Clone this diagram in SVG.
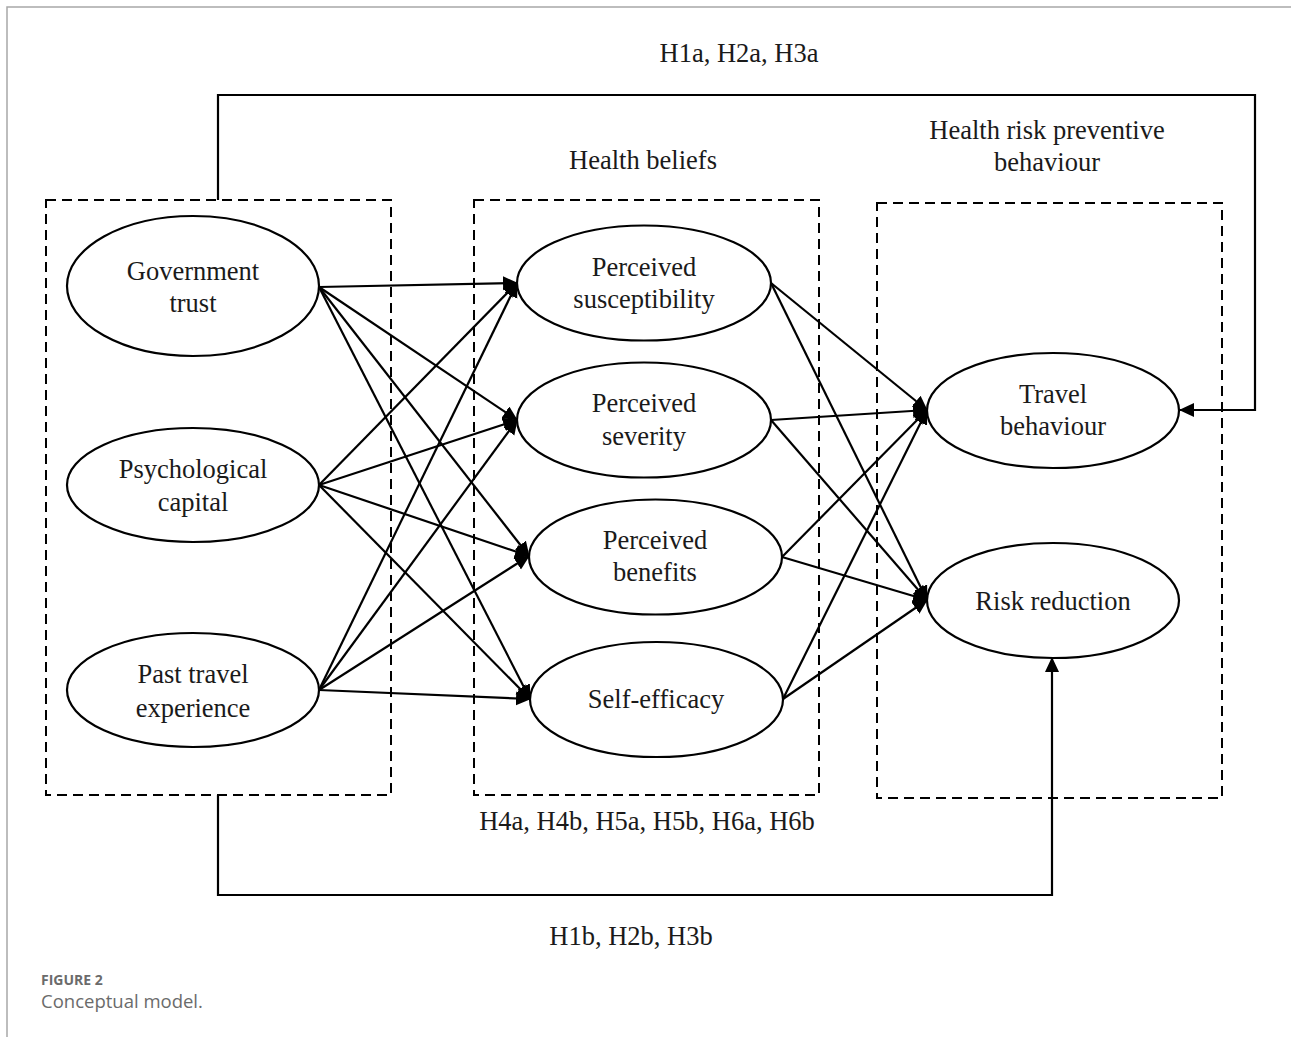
<svg xmlns="http://www.w3.org/2000/svg" width="1291" height="1037" viewBox="0 0 1291 1037">
<style>
  .frame{fill:none;stroke:#a8a8a8;stroke-width:1.5}
  .box{fill:none;stroke:#000;stroke-width:2;stroke-dasharray:10,6}
  .node ellipse{fill:#fff;stroke:#000;stroke-width:2.2}
  .t{font-family:"Liberation Serif","Times New Roman",serif;font-size:26.5px;fill:#1a1a1a;text-anchor:middle}
  .conn line,.conn polyline{fill:none;stroke:#000;stroke-width:2.2}
  .cap1{font-family:"Open Sans","Noto Sans",sans-serif;font-size:14px;font-weight:bold;fill:#6b6b6b}
  .cap2{font-family:"Open Sans","Noto Sans",sans-serif;font-size:18.5px;fill:#6b6b6b}
</style>
<defs>
  <marker id="ah" markerUnits="userSpaceOnUse" markerWidth="16" markerHeight="16" refX="14" refY="7" orient="auto">
    <path d="M0,0 L15,7 L0,14 z" fill="#000"/>
  </marker>
</defs>
<rect width="1291" height="1037" fill="#fff"/>
<polyline class="frame" points="7,1037 7,7 1291,7"/>

<g id="groups">
  <rect class="box" x="46" y="200" width="345" height="595"/>
  <rect class="box" x="474" y="200" width="345" height="595"/>
  <rect class="box" x="877" y="203" width="345" height="595"/>
  <text class="t" x="643" y="169">Health beliefs</text>
  <text class="t" x="1047" y="139">Health risk preventive</text>
  <text class="t" x="1047" y="171">behaviour</text>
</g>

<g id="connectors" class="conn">
  <line x1="319" y1="287" x2="517" y2="283" marker-end="url(#ah)"/>
  <line x1="319" y1="287" x2="517" y2="420" marker-end="url(#ah)"/>
  <line x1="319" y1="287" x2="529" y2="556" marker-end="url(#ah)"/>
  <line x1="319" y1="287" x2="530" y2="699" marker-end="url(#ah)"/>
  <line x1="319" y1="485" x2="517" y2="283" marker-end="url(#ah)"/>
  <line x1="319" y1="485" x2="517" y2="420" marker-end="url(#ah)"/>
  <line x1="319" y1="485" x2="529" y2="556" marker-end="url(#ah)"/>
  <line x1="319" y1="485" x2="530" y2="699" marker-end="url(#ah)"/>
  <line x1="319" y1="690" x2="517" y2="283" marker-end="url(#ah)"/>
  <line x1="319" y1="690" x2="517" y2="420" marker-end="url(#ah)"/>
  <line x1="319" y1="690" x2="529" y2="556" marker-end="url(#ah)"/>
  <line x1="319" y1="690" x2="530" y2="699" marker-end="url(#ah)"/>
  <line x1="771" y1="283" x2="927" y2="410" marker-end="url(#ah)"/>
  <line x1="771" y1="283" x2="927" y2="600" marker-end="url(#ah)"/>
  <line x1="771" y1="420" x2="927" y2="410" marker-end="url(#ah)"/>
  <line x1="771" y1="420" x2="927" y2="600" marker-end="url(#ah)"/>
  <line x1="782" y1="557" x2="927" y2="410" marker-end="url(#ah)"/>
  <line x1="782" y1="557" x2="927" y2="600" marker-end="url(#ah)"/>
  <line x1="783" y1="699" x2="927" y2="410" marker-end="url(#ah)"/>
  <line x1="783" y1="699" x2="927" y2="600" marker-end="url(#ah)"/>
  <polyline points="218,200 218,95 1255,95 1255,410 1180,410" marker-end="url(#ah)"/>
  <polyline points="218,795 218,895 1052,895 1052,658" marker-end="url(#ah)"/>
</g>

<g id="labels">
  <text class="t" x="739" y="62">H1a, H2a, H3a</text>
  <text class="t" x="647" y="830">H4a, H4b, H5a, H5b, H6a, H6b</text>
  <text class="t" x="631" y="945">H1b, H2b, H3b</text>
</g>

<g id="gov-trust" class="node">
  <ellipse cx="193" cy="286" rx="126" ry="70"/>
  <text class="t" x="193" y="280">Government</text>
  <text class="t" x="193" y="312">trust</text>
</g>
<g id="psych-capital" class="node">
  <ellipse cx="193" cy="485" rx="126" ry="57"/>
  <text class="t" x="193" y="478">Psychological</text>
  <text class="t" x="193" y="511">capital</text>
</g>
<g id="past-travel" class="node">
  <ellipse cx="193" cy="690" rx="126" ry="57"/>
  <text class="t" x="193" y="683">Past travel</text>
  <text class="t" x="193" y="717">experience</text>
</g>
<g id="perc-susc" class="node">
  <ellipse cx="644" cy="283" rx="127" ry="57.5"/>
  <text class="t" x="644" y="276">Perceived</text>
  <text class="t" x="644" y="308">susceptibility</text>
</g>
<g id="perc-sev" class="node">
  <ellipse cx="644" cy="420" rx="127" ry="57.5"/>
  <text class="t" x="644" y="412">Perceived</text>
  <text class="t" x="644" y="445">severity</text>
</g>
<g id="perc-ben" class="node">
  <ellipse cx="655.5" cy="557" rx="126.5" ry="57.5"/>
  <text class="t" x="655" y="549">Perceived</text>
  <text class="t" x="655" y="581">benefits</text>
</g>
<g id="self-eff" class="node">
  <ellipse cx="656.5" cy="699.5" rx="126.5" ry="57.5"/>
  <text class="t" x="656" y="708">Self-efficacy</text>
</g>
<g id="travel-beh" class="node">
  <ellipse cx="1053" cy="410.5" rx="126" ry="57.5"/>
  <text class="t" x="1053" y="403">Travel</text>
  <text class="t" x="1053" y="435">behaviour</text>
</g>
<g id="risk-red" class="node">
  <ellipse cx="1053" cy="600.5" rx="126" ry="57.5"/>
  <text class="t" x="1053" y="610">Risk reduction</text>
</g>

<text class="cap1" x="41" y="985">FIGURE 2</text>
<text class="cap2" x="41" y="1008">Conceptual model.</text>
</svg>
